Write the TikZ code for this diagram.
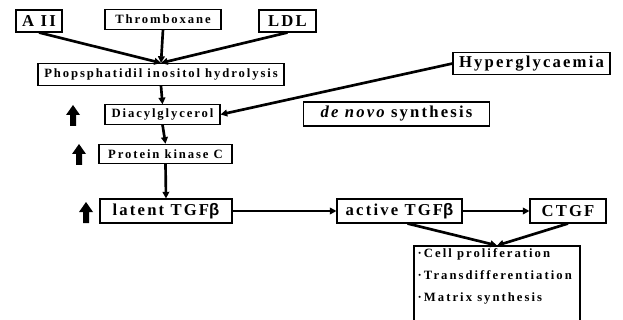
\documentclass[tikz,border=0pt]{standalone}
\usepackage{fontspec}
\setmainfont{Liberation Serif}
\newfontfamily\spacedbig{Liberation Serif}[LetterSpace=13]
\newfontfamily\spacedsmall{Liberation Serif}[LetterSpace=15]
\newfontfamily\spacedlist{Liberation Serif}[LetterSpace=16]
\newfontfamily\betaface{Liberation Sans}
\usetikzlibrary{arrows.meta}

\begin{document}
\begin{tikzpicture}[
    x=0.75pt,
    y=-0.75pt,
    stage/.style={draw=black, line width=0.8pt, inner sep=0pt, align=center},
    bigbox/.style={stage, minimum height=17pt,
                   font=\spacedbig\bfseries\fontsize{12.5}{14}\selectfont},
    smallbox/.style={stage, minimum height=14.5pt,
                     font=\spacedsmall\bfseries\fontsize{9.5}{11}\selectfont},
    listbox/.style={stage, minimum width=124.5pt, minimum height=63pt},
    listtext/.style={align=left, inner sep=0pt,
                     font=\spacedlist\bfseries\fontsize{9.5}{16.5}\selectfont},
    flow/.style={-{Triangle[length=5pt,width=5pt]}, line width=2pt},
    uparrow/.pic={\fill (-3,0) -- (-3,-11) -- (-7,-11) -- (0,-21)
                        -- (7,-11) -- (3,-11) -- (3,0) -- cycle;}
]
\fill[white] (0,0) rectangle (623,320);
\useasboundingbox (0,0) rectangle (623,320);

% Upstream stimuli
\node[bigbox, minimum width=34.5pt, minimum height=16.5pt] (aii) at (39,21) {A II};
\node[smallbox, minimum width=87pt] (thromb) at (163,19.5) {Thromboxane};
\node[bigbox, minimum width=42.75pt, minimum height=16.5pt] (ldl) at (287.5,21) {LDL};
\node[bigbox, minimum width=117.75pt, minimum height=16pt] (hyper) at (531.5,63.5) {Hyperglycaemia};

% Signalling cascade
\node[smallbox, minimum width=184.5pt, minimum height=16.5pt] (phos) at (161,74.5)
      {Phopsphatidil inositol hydrolysis};
\node[smallbox, minimum width=86.25pt] (dag) at (162.5,114.5) {Diacylglycerol};
\node[bigbox, minimum width=140pt, minimum height=18pt] (denovo) at (396.5,114)
      {{\itshape de novo} synthesis};
\node[smallbox, minimum width=99.75pt] (pkc) at (165.5,154) {Protein kinase C};
\node[bigbox, minimum width=99pt, minimum height=18pt] (latent) at (166,211)
      {latent TGF{\betaface β}};
\node[bigbox, minimum width=93.75pt, minimum height=18pt] (active) at (399.5,211)
      {active TGF{\betaface β}};
\node[bigbox, minimum width=57pt, minimum height=18pt] (ctgf) at (568,211) {CTGF};

% Effects (box runs off the lower edge)
\node[listbox] (effects) at (497,288) {};
\node[listtext, anchor=north west] (items) at ([shift={(4,3)}]effects.north west)
      {·Cell proliferation\\·Transdifferentiation\\·Matrix synthesis};

% Up-regulation markers
\foreach \x/\y in {73/126, 79/165, 86/223}
    \pic at (\x,\y) {uparrow};

% Connectors
\draw[flow] (aii.south) -- (phos.north);
\draw[flow] (thromb.south) -- (phos.north);
\draw[flow] (ldl.south) -- (phos.north);
\draw[flow] (phos.south) -- (dag.north);
\draw[flow] (hyper.west) -- (dag.east);
\draw[flow] (dag.south) -- (pkc.north);
\draw[flow] (pkc.south) -- (latent.north);
\draw[flow] (latent.east) -- (active.west);
\draw[flow] (active.east) -- (ctgf.west);
\draw[flow] ([xshift=6pt]active.south) -- (effects.north);
\draw[flow] (ctgf.south) -- (effects.north);
\end{tikzpicture}
\end{document}
